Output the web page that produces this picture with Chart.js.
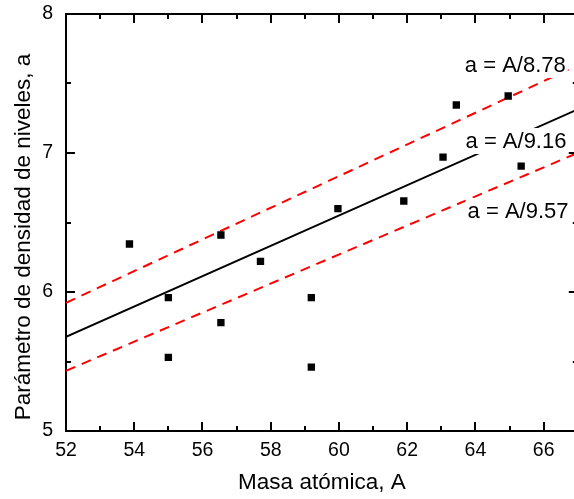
<!DOCTYPE html>
<html>
<head>
<meta charset="utf-8">
<script src="https://cdn.jsdelivr.net/npm/chart.js@4.4.1/dist/chart.umd.min.js"></script>
<style>
  html, body { margin: 0; padding: 0; background: #fff; overflow: hidden; }
  #wrap { width: 583px; height: 499px; position: relative; }
</style>
</head>
<body>
<div id="wrap"><canvas id="chart"></canvas></div>
<script>
// measured points: atomic mass A vs level density parameter a
const massA  = [53.86, 55.0, 55.0, 56.54, 56.54, 57.7, 59.19, 59.19, 59.97, 61.9, 63.05, 63.44, 64.96, 65.34];
const aParam = [6.345, 5.96, 5.53, 5.78, 6.41, 6.22, 5.96, 5.46, 6.60, 6.655, 6.97, 7.345, 7.41, 6.906];

// a = A/k lines
const fitK     = [8.78, 9.16, 9.57];
const fitLabel = ['a = A/8.78', 'a = A/9.16', 'a = A/9.57'];
const lineA    = [52, 67];

const xMajor = [52, 54, 56, 58, 60, 62, 64, 66];
const xMinor = [53, 55, 57, 59, 61, 63, 65, 67];
const yMajor = [5, 6, 7, 8];
const yMinor = [5.5, 6.5, 7.5];

const yTitle = 'Parámetro de densidad de niveles, a';

const FONT = "'Liberation Sans', Arial, sans-serif";

function lineData(k) {
  return lineA.map(A => ({ x: A, y: A / k }));
}

// white-boxed labels on the lines
const labelPlugin = {
  id: 'fitLabels',
  afterDatasetsDraw(chart) {
    const ctx = chart.ctx, xs = chart.scales.x, ys = chart.scales.y;
    const spots = [[63.69, 7.633], [63.71, 7.086], [63.77, 6.583]];
    ctx.save();
    ctx.font = '22px ' + FONT;
    ctx.textBaseline = 'middle';
    fitLabel.forEach((t, i) => {
      const px = xs.getPixelForValue(spots[i][0]);
      const py = ys.getPixelForValue(spots[i][1]);
      const w = ctx.measureText(t).width;
      ctx.fillStyle = '#fff';
      ctx.fillRect(px - 2, py - 13, w + 4, 26);
      ctx.fillStyle = '#000';
      ctx.fillText(t, px, py + 1);
    });
    ctx.restore();
  }
};

// frame with inward ticks on all four sides, plus the y title
const framePlugin = {
  id: 'frame',
  afterDraw(chart) {
    const ctx = chart.ctx, xs = chart.scales.x, ys = chart.scales.y, a = chart.chartArea;
    ctx.save();
    ctx.strokeStyle = '#000';
    ctx.lineWidth = 2;
    ctx.beginPath();
    ctx.moveTo(a.left - 1, a.top); ctx.lineTo(a.right + 1, a.top);
    ctx.moveTo(a.right, a.top); ctx.lineTo(a.right, a.bottom);
    const xt = (v, len) => {
      const p = Math.round(xs.getPixelForValue(v));
      ctx.moveTo(p, a.bottom); ctx.lineTo(p, a.bottom - len);
      ctx.moveTo(p, a.top); ctx.lineTo(p, a.top + len);
    };
    const yt = (v, len) => {
      const p = Math.round(ys.getPixelForValue(v));
      ctx.moveTo(a.left, p); ctx.lineTo(a.left + len, p);
      ctx.moveTo(a.right, p); ctx.lineTo(a.right - len, p);
    };
    xMajor.forEach(v => xt(v, 9));
    xMinor.forEach(v => xt(v, 5));
    yMajor.forEach(v => yt(v, 9));
    yMinor.forEach(v => yt(v, 5));
    ctx.stroke();

    // y axis title, sits a bit below the plot centre
    ctx.translate(30, 237);
    ctx.rotate(-Math.PI / 2);
    ctx.font = '22.5px ' + FONT;
    ctx.fillStyle = '#000';
    ctx.textAlign = 'center';
    ctx.textBaseline = 'alphabetic';
    ctx.fillText(yTitle, 0, 0);
    ctx.restore();
  }
};

new Chart(document.getElementById('chart'), {
  type: 'scatter',
  data: {
    datasets: [
      {
        data: massA.map((A, i) => ({ x: A, y: aParam[i] })),
        pointStyle: 'rect',
        pointRadius: 5.2,
        pointHoverRadius: 5.2,
        backgroundColor: '#000',
        borderColor: '#000',
        borderWidth: 0,
        order: 0
      },
      {
        type: 'line',
        data: lineData(fitK[1]),
        borderColor: '#000',
        borderWidth: 2,
        pointRadius: 0,
        order: 2
      },
      {
        type: 'line',
        data: lineData(fitK[0]),
        borderColor: '#ff0000',
        borderWidth: 2,
        borderDash: [10, 7],
        pointRadius: 0,
        order: 1
      },
      {
        type: 'line',
        data: lineData(fitK[2]),
        borderColor: '#ff0000',
        borderWidth: 2,
        borderDash: [10, 7],
        pointRadius: 0,
        order: 1
      }
    ]
  },
  options: {
    responsive: true,
    maintainAspectRatio: false,
    animation: false,
    events: [],
    layout: { padding: { top: 14, right: 2, left: 0, bottom: 0 } },
    plugins: { legend: { display: false }, tooltip: { enabled: false } },
    scales: {
      x: {
        type: 'linear',
        min: 52,
        max: 67,
        afterBuildTicks: s => { s.ticks = xMajor.map(v => ({ value: v })); },
        afterFit: s => { s.height = 68; s.paddingLeft = 0; s.paddingRight = 0; },
        grid: { display: false, drawTicks: false },
        border: { display: true, color: '#000', width: 2 },
        ticks: { color: '#000', font: { family: FONT, size: 19.5 }, padding: 8, maxRotation: 0 },
        title: { display: true, text: 'Masa atómica, A', color: '#000', font: { family: FONT, size: 22.5 }, padding: { top: 0, bottom: 3 } }
      },
      y: {
        type: 'linear',
        min: 5,
        max: 8,
        afterBuildTicks: s => { s.ticks = yMajor.map(v => ({ value: v })); },
        afterFit: s => { s.width = 66; s.paddingTop = 0; s.paddingBottom = 0; },
        grid: { display: false, drawTicks: false },
        border: { display: true, color: '#000', width: 2 },
        ticks: { color: '#000', font: { family: FONT, size: 19.5 }, padding: 13 },
        title: { display: false }
      }
    }
  },
  plugins: [labelPlugin, framePlugin]
});
</script>
</body>
</html>
